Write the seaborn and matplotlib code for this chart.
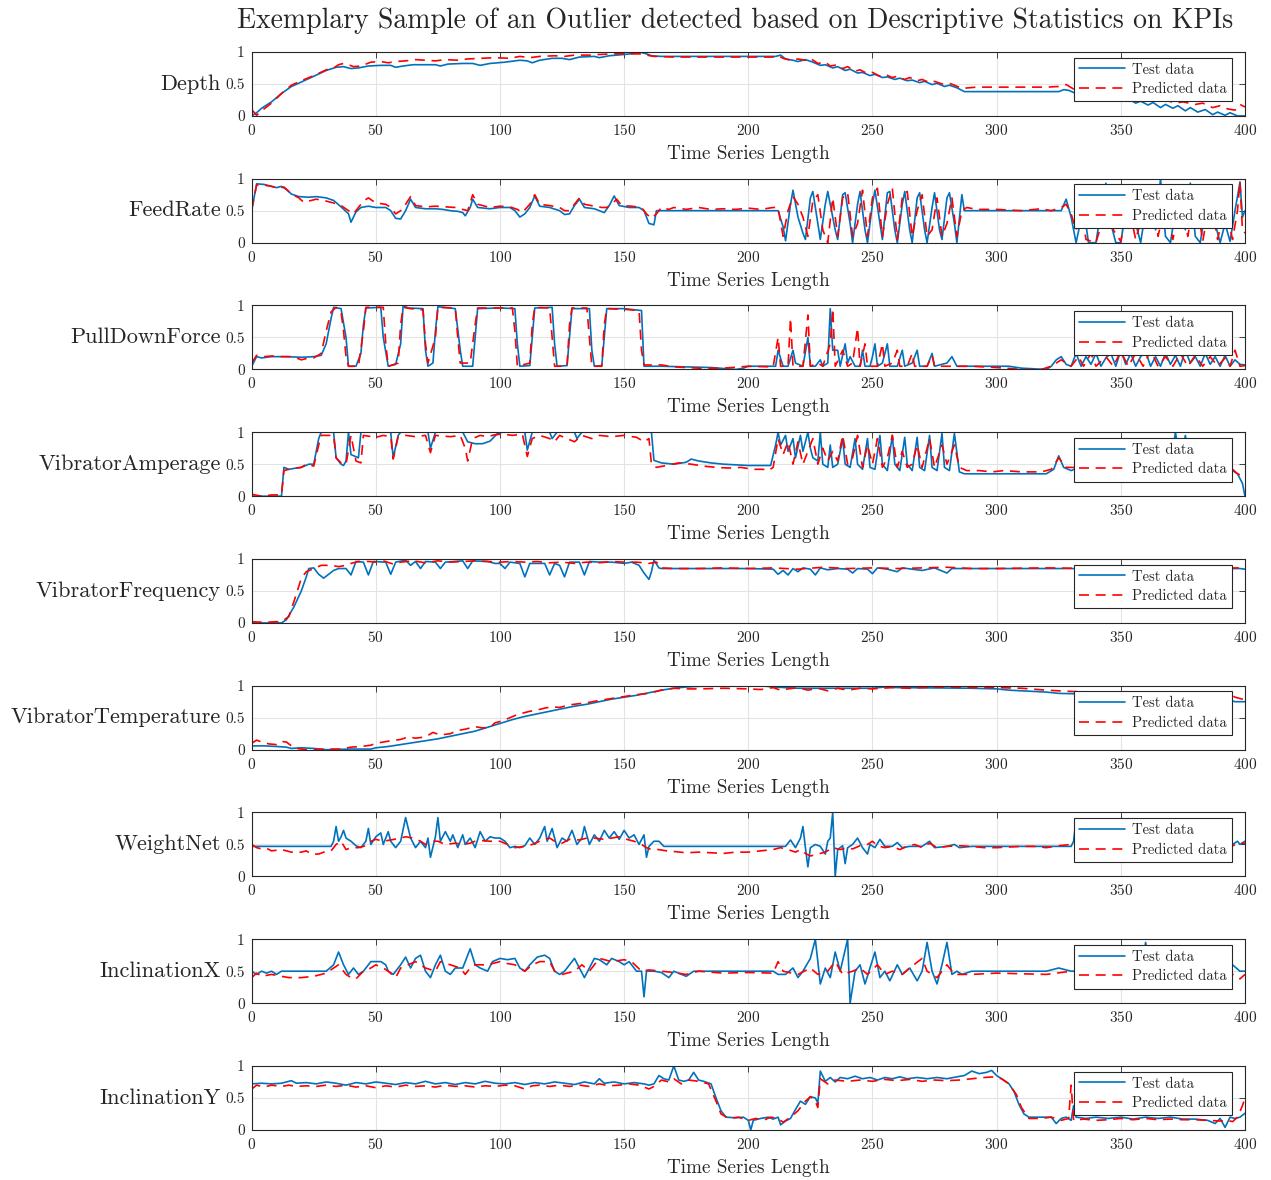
"""
Outlier sample: test vs. predicted KPI series
"""

import matplotlib
matplotlib.use("Agg")
import matplotlib.pyplot as plt
import pandas as pd
import seaborn as sns

# ---- data (time step, normalised value) ----
kpis = ["Depth", "FeedRate", "PullDownForce", "VibratorAmperage", "VibratorFrequency",
        "VibratorTemperature", "WeightNet", "InclinationX", "InclinationY"]

depth_test = [(0,0.0),(2,0.05),(4,0.12),(8,0.22),(12,0.35),(16,0.46),(20,0.53),(25,0.62),(30,0.71),(34,0.76),(37,0.77),(40,0.74),(43,0.75),(47,0.78),(52,0.79),(56,0.79),(58,0.76),(61,0.78),(65,0.8),(70,0.8),(74,0.8),(76,0.78),(79,0.81),(85,0.82),(89,0.82),(92,0.79),(96,0.82),(102,0.84),(108,0.87),(111,0.86),(113,0.83),(116,0.87),(121,0.9),(125,0.9),(128,0.88),(132,0.92),(138,0.93),(140,0.91),(144,0.94),(150,0.96),(155,0.98),(157,0.99),(159,0.97),(161,0.94),(165,0.93),(190,0.93),(211,0.93),(213,0.95),(215,0.89),(218,0.87),(220,0.85),(223,0.88),(226,0.84),(229,0.79),(231,0.8),(234,0.75),(236,0.77),(239,0.71),(241,0.73),(244,0.67),(246,0.68),(249,0.63),(251,0.65),(254,0.6),(256,0.61),(259,0.57),(261,0.59),(264,0.55),(266,0.56),(269,0.52),(271,0.54),(274,0.49),(276,0.51),(279,0.46),(281,0.48),(284,0.44),(287,0.38),(325,0.38),(327,0.41),(329,0.4),(332,0.35),(335,0.36),(340,0.33),(345,0.3),(350,0.28),(353,0.27),(356,0.2),(358,0.23),(361,0.17),(363,0.21),(366,0.13),(368,0.18),(371,0.12),(373,0.16),(376,0.08),(378,0.13),(381,0.06),(384,0.1),(387,0.02),(389,0.06),(392,0.01),(394,0.05),(397,0.0),(400,0.0)]
depth_pred = [(0,0.1),(2,0.01),(4,0.08),(8,0.2),(12,0.35),(16,0.48),(20,0.55),(25,0.63),(30,0.72),(33,0.75),(35,0.8),(37,0.82),(39,0.8),(41,0.77),(44,0.78),(48,0.84),(52,0.85),(55,0.83),(58,0.85),(62,0.86),(66,0.88),(70,0.87),(74,0.86),(78,0.88),(83,0.87),(87,0.89),(92,0.9),(98,0.91),(104,0.9),(108,0.93),(112,0.91),(116,0.93),(122,0.94),(126,0.93),(130,0.95),(136,0.95),(140,0.96),(146,0.97),(152,0.97),(156,0.97),(159,0.95),(162,0.93),(170,0.92),(190,0.92),(210,0.92),(212,0.94),(214,0.9),(217,0.87),(220,0.89),(223,0.87),(225,0.9),(228,0.82),(231,0.84),(233,0.78),(236,0.8),(238,0.74),(240,0.77),(243,0.7),(245,0.72),(248,0.66),(250,0.68),(253,0.62),(255,0.65),(258,0.6),(260,0.62),(263,0.57),(265,0.6),(268,0.55),(270,0.57),(273,0.52),(275,0.54),(278,0.5),(281,0.51),(283,0.48),(286,0.43),(289,0.44),(292,0.45),(300,0.45),(320,0.45),(325,0.46),(328,0.49),(331,0.42),(335,0.4),(345,0.35),(355,0.3),(360,0.28),(365,0.22),(368,0.25),(372,0.2),(375,0.22),(380,0.18),(383,0.2),(387,0.13),(390,0.16),(393,0.11),(396,0.09),(398,0.18),(400,0.14)]

feed_test = [(0,0.5),(2,0.92),(5,0.91),(8,0.88),(10,0.86),(12,0.88),(14,0.83),(16,0.76),(19,0.72),(23,0.71),(26,0.72),(30,0.7),(33,0.66),(36,0.56),(39,0.45),(40,0.32),(42,0.48),(44,0.55),(47,0.57),(50,0.55),(54,0.55),(56,0.5),(58,0.38),(60,0.37),(62,0.5),(64,0.68),(66,0.55),(70,0.53),(74,0.53),(77,0.52),(80,0.5),(83,0.49),(85,0.47),(86,0.42),(88,0.55),(89,0.68),(91,0.55),(96,0.53),(100,0.55),(104,0.55),(106,0.5),(108,0.4),(110,0.45),(112,0.55),(114,0.73),(116,0.57),(120,0.55),(124,0.5),(126,0.44),(128,0.45),(130,0.58),(132,0.68),(134,0.55),(138,0.53),(140,0.5),(142,0.47),(144,0.58),(146,0.73),(148,0.58),(152,0.55),(156,0.55),(158,0.5),(160,0.3),(162,0.28),(163,0.5),(212,0.5),(214,0.25),(215,0.03),(217,0.6),(218,0.82),(220,0.4),(222,0.15),(223,0.05),(225,0.7),(226,0.8),(228,0.3),(229,0.05),(231,0.6),(232,0.8),(234,0.4),(235,0.2),(236,0.05),(238,0.75),(239,0.78),(241,0.3),(242,0.0),(244,0.6),(245,0.8),(247,0.2),(248,0.0),(250,0.6),(251,0.82),(253,0.3),(254,0.05),(256,0.78),(257,0.8),(259,0.2),(260,0.0),(262,0.6),(263,0.8),(265,0.2),(266,0.0),(268,0.7),(269,0.78),(271,0.2),(272,0.0),(274,0.55),(275,0.78),(277,0.2),(278,0.05),(280,0.7),(281,0.78),(283,0.3),(284,0.0),(286,0.75),(287,0.5),(326,0.5),(328,0.68),(330,0.4),(332,0.0),(335,0.55),(337,0.0),(340,0.0),(342,0.5),(344,0.93),(346,0.3),(348,0.0),(350,0.0),(352,0.5),(354,0.9),(356,0.3),(358,0.0),(360,0.5),(362,0.9),(364,0.2),(366,1.0),(368,0.1),(370,0.0),(372,0.5),(374,0.9),(376,0.2),(378,0.93),(380,0.1),(382,0.0),(384,0.5),(386,0.9),(388,0.3),(390,0.0),(392,0.3),(394,0.02),(396,0.5),(398,0.95),(399,0.4),(400,0.5)]
feed_pred = [(0,0.52),(2,0.9),(5,0.9),(8,0.88),(11,0.85),(13,0.87),(15,0.8),(17,0.74),(19,0.7),(21,0.63),(23,0.65),(26,0.68),(30,0.65),(33,0.62),(36,0.58),(39,0.5),(41,0.45),(43,0.55),(45,0.65),(47,0.7),(50,0.62),(54,0.6),(56,0.55),(58,0.45),(60,0.5),(62,0.6),(64,0.72),(66,0.58),(70,0.56),(74,0.57),(78,0.56),(82,0.55),(85,0.52),(87,0.5),(88,0.62),(89,0.75),(91,0.6),(96,0.55),(100,0.57),(104,0.56),(107,0.52),(109,0.47),(112,0.6),(114,0.75),(116,0.6),(120,0.58),(124,0.55),(126,0.5),(128,0.5),(130,0.6),(132,0.7),(134,0.6),(138,0.57),(141,0.55),(143,0.55),(145,0.6),(147,0.68),(149,0.58),(153,0.57),(157,0.55),(159,0.45),(161,0.38),(163,0.45),(165,0.55),(168,0.52),(170,0.55),(175,0.52),(180,0.55),(185,0.52),(190,0.53),(195,0.52),(200,0.54),(205,0.52),(210,0.55),(212,0.55),(214,0.1),(216,0.5),(218,0.72),(220,0.6),(222,0.4),(224,0.1),(226,0.65),(228,0.75),(230,0.2),(232,0.0),(234,0.7),(236,0.1),(238,0.7),(240,0.78),(242,0.1),(244,0.3),(246,0.82),(248,0.1),(250,0.7),(252,0.85),(254,0.1),(256,0.6),(258,0.85),(260,0.05),(262,0.7),(264,0.8),(266,0.1),(268,0.5),(270,0.75),(272,0.1),(274,0.2),(276,0.7),(278,0.1),(280,0.3),(282,0.7),(284,0.1),(286,0.5),(288,0.55),(292,0.52),(300,0.52),(310,0.5),(318,0.53),(322,0.5),(326,0.55),(328,0.6),(330,0.45),(332,0.2),(334,0.55),(336,0.05),(340,0.0),(343,0.4),(345,0.8),(347,0.2),(350,0.02),(353,0.6),(356,0.05),(360,0.6),(363,0.9),(365,0.1),(368,0.6),(371,0.05),(374,0.7),(377,0.1),(380,0.8),(383,0.02),(386,0.7),(389,0.05),(392,0.6),(395,0.05),(397,0.5),(398,0.95),(399,0.2),(400,0.15)]

pull_test = [(0,0.05),(2,0.2),(4,0.18),(8,0.2),(14,0.2),(20,0.19),(25,0.2),(28,0.22),(30,0.4),(32,0.8),(33,0.97),(36,0.95),(38,0.5),(39,0.05),(42,0.05),(44,0.25),(45,0.7),(46,0.96),(52,0.97),(53,0.5),(55,0.05),(58,0.08),(60,0.4),(61,1.0),(63,0.96),(69,0.95),(70,0.3),(71,0.05),(73,0.1),(74,0.6),(75,0.98),(82,0.95),(84,0.3),(85,0.05),(89,0.05),(90,0.5),(91,0.95),(100,0.96),(106,0.95),(107,0.4),(108,0.05),(112,0.06),(113,0.5),(114,0.96),(121,0.97),(122,0.4),(123,0.05),(127,0.06),(128,0.5),(129,0.95),(136,0.95),(137,0.3),(138,0.05),(141,0.06),(142,0.5),(143,0.95),(150,0.95),(157,0.92),(158,0.05),(165,0.05),(175,0.04),(185,0.03),(195,0.0),(198,0.02),(200,0.05),(211,0.05),(212,0.3),(214,0.05),(216,0.05),(218,0.3),(219,0.1),(222,0.05),(224,0.5),(225,0.05),(227,0.05),(229,0.15),(230,0.05),(232,0.1),(233,0.95),(234,0.3),(236,0.3),(237,0.05),(239,0.4),(240,0.1),(241,0.2),(243,0.05),(245,0.05),(246,0.3),(247,0.05),(249,0.05),(250,0.2),(251,0.4),(252,0.05),(254,0.1),(256,0.4),(257,0.05),(260,0.05),(262,0.3),(263,0.05),(266,0.1),(268,0.3),(269,0.05),(272,0.05),(274,0.25),(275,0.05),(280,0.1),(282,0.2),(284,0.05),(290,0.05),(300,0.05),(305,0.05),(310,0.02),(315,0.01),(320,0.0),(322,0.05),(324,0.15),(326,0.2),(328,0.08),(330,0.05),(332,0.25),(334,0.05),(336,0.2),(338,0.08),(340,0.25),(342,0.05),(344,0.18),(346,0.25),(348,0.05),(350,0.3),(352,0.08),(354,0.25),(356,0.05),(358,0.2),(360,0.28),(362,0.05),(364,0.2),(366,0.05),(368,0.25),(370,0.08),(372,0.22),(374,0.05),(376,0.3),(378,0.1),(380,0.2),(382,0.05),(384,0.25),(386,0.08),(388,0.2),(390,0.05),(392,0.22),(394,0.05),(396,0.15),(398,0.08),(400,0.07)]
pull_pred = [(0,0.1),(2,0.22),(5,0.2),(8,0.21),(12,0.2),(16,0.2),(18,0.18),(20,0.15),(22,0.17),(25,0.18),(28,0.25),(30,0.6),(32,0.9),(34,0.97),(36,0.9),(37,0.6),(38,0.2),(39,0.05),(43,0.05),(45,0.6),(46,0.97),(53,0.97),(54,0.4),(55,0.05),(59,0.1),(60,0.7),(61,0.97),(64,0.95),(69,0.93),(70,0.4),(71,0.1),(74,0.5),(75,0.97),(82,0.96),(83,0.5),(84,0.1),(88,0.1),(90,0.7),(91,0.96),(105,0.96),(106,0.6),(107,0.05),(112,0.1),(113,0.7),(114,0.97),(120,0.96),(121,0.5),(122,0.05),(127,0.05),(128,0.7),(129,0.96),(135,0.96),(136,0.5),(137,0.05),(141,0.05),(142,0.7),(143,0.95),(150,0.94),(156,0.92),(157,0.3),(158,0.07),(165,0.07),(170,0.04),(180,0.02),(190,0.02),(200,0.05),(210,0.04),(212,0.5),(213,0.05),(216,0.05),(217,0.8),(218,0.05),(222,0.05),(224,0.85),(225,0.05),(228,0.1),(230,0.05),(233,0.4),(234,0.95),(235,0.05),(238,0.3),(240,0.05),(242,0.1),(244,0.65),(245,0.05),(247,0.4),(248,0.05),(252,0.05),(254,0.4),(255,0.05),(258,0.1),(260,0.3),(261,0.05),(264,0.05),(266,0.25),(267,0.05),(272,0.05),(274,0.22),(275,0.05),(280,0.05),(290,0.05),(300,0.03),(310,0.0),(318,0.0),(322,0.05),(326,0.15),(330,0.05),(333,0.2),(335,0.05),(338,0.25),(340,0.05),(344,0.2),(347,0.05),(350,0.28),(353,0.05),(356,0.25),(359,0.05),(362,0.3),(365,0.05),(368,0.2),(371,0.05),(374,0.25),(377,0.05),(380,0.22),(383,0.05),(386,0.2),(389,0.05),(392,0.18),(394,0.05),(396,0.3),(398,0.05),(400,0.06)]

amp_test = [(0,0.0),(12,0.0),(13,0.45),(15,0.42),(18,0.44),(20,0.45),(23,0.5),(25,0.5),(27,0.9),(28,1.0),(33,1.0),(34,0.6),(36,0.5),(37,0.48),(38,0.55),(39,1.0),(40,0.65),(43,0.6),(44,1.0),(56,1.0),(57,0.6),(59,0.95),(60,1.0),(71,1.0),(72,0.75),(74,1.0),(85,1.0),(87,0.85),(90,0.82),(93,0.82),(96,0.86),(99,0.98),(101,1.0),(110,1.0),(111,0.72),(113,1.0),(120,1.0),(121,0.9),(123,1.0),(130,1.0),(131,0.9),(133,1.0),(161,1.0),(162,0.56),(165,0.52),(170,0.5),(175,0.53),(177,0.58),(180,0.55),(185,0.52),(190,0.5),(200,0.48),(209,0.48),(211,0.8),(212,1.0),(213,0.8),(215,0.95),(216,0.7),(218,0.9),(219,0.6),(221,0.95),(222,0.7),(224,1.0),(225,0.75),(226,0.6),(228,0.55),(229,1.0),(230,0.5),(232,0.45),(233,0.8),(234,0.45),(236,0.5),(238,0.9),(239,0.5),(241,0.45),(243,0.9),(244,0.5),(246,0.42),(248,0.9),(249,0.45),(251,0.42),(253,0.95),(254,0.5),(256,0.4),(258,0.95),(259,0.5),(261,0.4),(263,0.92),(264,0.5),(266,0.4),(268,0.92),(269,0.45),(271,0.4),(273,0.95),(274,0.45),(276,0.4),(278,0.98),(279,0.45),(281,0.4),(283,0.98),(285,0.38),(287,0.35),(300,0.35),(320,0.35),(323,0.42),(325,0.63),(327,0.45),(330,0.4),(333,0.45),(335,0.5),(340,0.45),(345,0.5),(350,0.48),(355,0.5),(360,0.45),(365,0.5),(370,0.45),(372,1.0),(374,0.5),(376,0.95),(378,0.5),(385,0.45),(390,0.45),(395,0.4),(397,0.35),(399,0.2),(400,0.0)]
amp_pred = [(0,0.03),(4,0.0),(8,0.02),(12,0.02),(13,0.4),(16,0.43),(20,0.45),(22,0.5),(25,0.47),(27,0.8),(28,0.95),(33,0.95),(34,0.6),(36,0.52),(38,0.5),(40,0.95),(42,0.55),(44,0.52),(45,0.95),(50,0.92),(53,0.95),(56,0.93),(57,0.58),(59,0.93),(62,0.95),(66,0.93),(70,0.95),(72,0.68),(74,0.95),(80,0.93),(84,0.95),(86,0.75),(87,0.55),(89,0.9),(92,0.95),(95,0.93),(98,0.96),(101,0.97),(105,0.95),(109,0.97),(111,0.62),(113,0.9),(116,0.95),(120,0.9),(122,0.85),(124,0.95),(127,0.9),(130,0.85),(133,0.95),(137,0.9),(140,0.95),(145,0.93),(150,0.95),(155,0.92),(158,0.85),(160,0.9),(161,0.5),(163,0.45),(167,0.48),(172,0.52),(177,0.5),(182,0.47),(187,0.45),(192,0.44),(197,0.45),(202,0.42),(206,0.42),(208,0.4),(210,0.45),(212,0.9),(214,0.65),(216,0.85),(218,0.5),(220,0.85),(222,0.5),(224,0.7),(226,0.9),(228,0.5),(230,0.75),(232,0.55),(234,0.7),(236,0.55),(238,0.95),(240,0.5),(242,0.6),(244,0.95),(246,0.45),(248,0.8),(250,0.5),(252,0.9),(254,0.45),(256,0.6),(258,0.95),(260,0.45),(262,0.7),(264,0.45),(266,0.5),(268,0.8),(270,0.45),(273,0.9),(275,0.45),(278,0.8),(280,0.5),(283,0.8),(285,0.45),(288,0.4),(293,0.4),(298,0.38),(303,0.4),(310,0.38),(318,0.38),(322,0.42),(325,0.6),(328,0.45),(335,0.45),(345,0.47),(355,0.45),(365,0.47),(375,0.45),(385,0.43),(395,0.42),(397,0.35),(400,0.3)]

freq_test = [(0,0.0),(12,0.0),(14,0.05),(17,0.25),(20,0.5),(22,0.72),(23,0.85),(25,0.86),(27,0.76),(29,0.7),(31,0.76),(33,0.82),(35,0.85),(38,0.85),(40,0.75),(42,0.96),(45,0.95),(47,0.75),(49,0.96),(54,0.95),(56,0.76),(58,0.95),(62,0.98),(64,0.9),(66,0.96),(68,0.85),(70,0.96),(74,0.95),(76,0.85),(78,0.95),(85,0.97),(87,0.85),(89,0.97),(95,0.96),(98,0.93),(100,0.93),(102,0.85),(104,0.95),(108,0.93),(110,0.72),(112,0.93),(118,0.93),(120,0.75),(122,0.93),(124,0.9),(126,0.72),(128,0.95),(132,0.95),(134,0.75),(136,0.96),(140,0.95),(145,0.95),(150,0.93),(153,0.95),(156,0.9),(158,0.78),(160,0.68),(161,0.8),(162,0.98),(164,0.86),(165,0.85),(200,0.85),(210,0.84),(212,0.76),(214,0.82),(216,0.75),(218,0.85),(220,0.8),(222,0.86),(225,0.84),(227,0.75),(229,0.86),(232,0.83),(236,0.85),(240,0.84),(242,0.78),(244,0.85),(248,0.84),(250,0.77),(252,0.86),(256,0.84),(260,0.8),(262,0.86),(266,0.84),(270,0.82),(275,0.86),(280,0.78),(282,0.85),(290,0.85),(330,0.85),(350,0.85),(398,0.85),(400,0.84)]
freq_pred = [(0,0.02),(5,0.01),(10,0.02),(12,0.02),(15,0.1),(18,0.45),(20,0.7),(22,0.8),(25,0.85),(28,0.9),(32,0.9),(35,0.88),(38,0.9),(40,0.93),(43,0.96),(47,0.96),(50,0.95),(53,0.97),(57,0.92),(60,0.95),(65,0.97),(70,0.94),(75,0.97),(80,0.95),(85,0.96),(90,0.97),(95,0.96),(100,0.95),(105,0.96),(110,0.95),(115,0.96),(120,0.94),(125,0.95),(130,0.93),(135,0.95),(140,0.94),(145,0.96),(150,0.95),(155,0.95),(160,0.93),(163,0.95),(165,0.86),(170,0.85),(180,0.85),(190,0.86),(200,0.85),(210,0.86),(220,0.84),(230,0.87),(240,0.85),(250,0.86),(260,0.85),(270,0.86),(280,0.87),(290,0.85),(300,0.85),(320,0.86),(340,0.85),(360,0.85),(380,0.85),(398,0.86),(400,0.84)]

temp_test = [(0,0.06),(5,0.06),(10,0.05),(14,0.04),(16,0.02),(20,0.03),(25,0.02),(30,0.0),(40,0.01),(48,0.01),(50,0.03),(55,0.05),(60,0.08),(65,0.11),(70,0.14),(75,0.17),(80,0.21),(85,0.25),(90,0.29),(95,0.35),(100,0.41),(105,0.47),(110,0.52),(115,0.56),(120,0.6),(125,0.64),(130,0.68),(135,0.71),(140,0.75),(145,0.79),(150,0.82),(155,0.85),(160,0.89),(165,0.93),(170,0.96),(175,0.98),(180,0.99),(190,1.0),(200,1.0),(205,1.0),(210,0.98),(215,0.97),(220,0.96),(240,0.96),(250,0.96),(255,0.98),(260,0.97),(290,0.96),(300,0.95),(305,0.93),(310,0.92),(320,0.9),(325,0.88),(335,0.87),(345,0.86),(355,0.84),(365,0.83),(375,0.81),(385,0.8),(393,0.78),(396,0.75),(400,0.75)]
temp_pred = [(0,0.1),(2,0.15),(4,0.12),(7,0.09),(10,0.08),(12,0.13),(14,0.12),(16,0.06),(18,0.02),(22,0.0),(30,0.01),(36,0.01),(40,0.04),(44,0.05),(48,0.07),(50,0.1),(53,0.12),(56,0.14),(60,0.16),(63,0.2),(66,0.18),(70,0.2),(73,0.27),(76,0.23),(80,0.25),(83,0.3),(86,0.32),(90,0.36),(93,0.34),(96,0.35),(98,0.42),(101,0.45),(104,0.5),(107,0.55),(109,0.57),(112,0.6),(115,0.62),(118,0.65),(121,0.67),(124,0.66),(128,0.7),(132,0.72),(136,0.74),(140,0.77),(145,0.8),(150,0.83),(155,0.86),(160,0.88),(165,0.93),(170,0.96),(175,0.95),(180,0.95),(190,0.96),(200,0.95),(205,0.94),(210,0.97),(213,0.93),(216,0.95),(220,0.97),(224,0.93),(228,0.96),(232,0.92),(236,0.96),(240,0.93),(245,0.96),(250,0.95),(258,0.97),(265,0.96),(270,0.97),(280,0.98),(290,0.97),(300,0.97),(310,0.96),(320,0.93),(330,0.91),(340,0.9),(350,0.9),(360,0.89),(370,0.88),(380,0.88),(390,0.87),(394,0.87),(396,0.82),(398,0.8),(400,0.78)]

weight_test = [(0,0.47),(32,0.47),(33,0.55),(34,0.78),(35,0.55),(36,0.62),(37,0.72),(38,0.6),(40,0.55),(42,0.48),(44,0.45),(46,0.55),(47,0.75),(48,0.5),(50,0.62),(52,0.68),(53,0.5),(55,0.7),(56,0.55),(58,0.45),(60,0.55),(62,0.92),(64,0.6),(66,0.45),(68,0.55),(70,0.45),(71,0.6),(72,0.3),(74,0.62),(75,0.92),(76,0.55),(78,0.7),(80,0.55),(81,0.65),(83,0.45),(85,0.65),(86,0.5),(88,0.6),(90,0.45),(92,0.7),(94,0.55),(96,0.62),(98,0.6),(100,0.6),(102,0.55),(104,0.45),(106,0.47),(108,0.45),(110,0.48),(112,0.6),(114,0.5),(116,0.6),(118,0.78),(119,0.55),(121,0.75),(123,0.45),(125,0.6),(127,0.55),(129,0.72),(131,0.5),(133,0.6),(134,0.78),(136,0.5),(138,0.65),(140,0.55),(142,0.72),(144,0.6),(146,0.7),(148,0.58),(150,0.72),(152,0.6),(154,0.65),(156,0.5),(158,0.65),(159,0.3),(160,0.47),(162,0.55),(164,0.55),(166,0.47),(215,0.47),(217,0.57),(219,0.45),(221,0.6),(222,0.78),(223,0.45),(224,0.15),(225,0.45),(227,0.5),(229,0.47),(231,0.35),(232,0.55),(233,0.6),(234,1.0),(235,0.0),(236,0.42),(238,0.48),(239,0.2),(240,0.45),(242,0.5),(244,0.6),(246,0.45),(248,0.35),(249,0.5),(251,0.45),(253,0.58),(255,0.47),(258,0.47),(260,0.53),(262,0.45),(265,0.47),(270,0.47),(273,0.55),(275,0.45),(280,0.47),(283,0.5),(285,0.45),(290,0.47),(330,0.47),(331,0.55),(332,0.9),(333,0.5),(345,0.5),(360,0.48),(380,0.5),(395,0.5),(397,0.55),(398,0.5),(400,0.55)]
weight_pred = [(0,0.5),(2,0.45),(4,0.43),(6,0.44),(8,0.4),(12,0.42),(16,0.38),(20,0.38),(22,0.4),(24,0.35),(27,0.35),(29,0.38),(32,0.4),(34,0.5),(36,0.55),(38,0.42),(40,0.45),(43,0.45),(46,0.48),(48,0.55),(50,0.58),(53,0.55),(56,0.57),(60,0.6),(62,0.62),(65,0.6),(68,0.55),(70,0.5),(73,0.55),(75,0.55),(78,0.5),(82,0.52),(85,0.5),(88,0.52),(90,0.55),(93,0.56),(96,0.55),(100,0.55),(103,0.5),(106,0.45),(110,0.47),(113,0.5),(116,0.55),(120,0.6),(122,0.55),(125,0.52),(128,0.58),(132,0.57),(135,0.6),(138,0.6),(142,0.58),(145,0.6),(148,0.62),(151,0.58),(154,0.55),(157,0.5),(159,0.45),(161,0.42),(164,0.42),(167,0.4),(170,0.39),(175,0.37),(180,0.38),(185,0.37),(190,0.36),(195,0.38),(200,0.38),(205,0.4),(210,0.42),(213,0.45),(216,0.42),(219,0.38),(221,0.42),(223,0.36),(225,0.32),(228,0.35),(231,0.38),(234,0.45),(237,0.42),(240,0.45),(242,0.43),(245,0.48),(248,0.5),(250,0.55),(252,0.48),(255,0.45),(258,0.47),(261,0.42),(264,0.47),(267,0.5),(270,0.45),(273,0.52),(276,0.45),(280,0.47),(285,0.48),(290,0.47),(295,0.45),(300,0.45),(305,0.46),(310,0.47),(315,0.47),(320,0.45),(325,0.48),(330,0.5),(340,0.48),(360,0.48),(380,0.5),(395,0.48),(398,0.52),(400,0.52)]

incx_test = [(0,0.5),(2,0.45),(4,0.5),(6,0.47),(8,0.5),(10,0.45),(12,0.5),(15,0.5),(20,0.5),(30,0.5),(33,0.6),(35,0.8),(37,0.6),(39,0.45),(41,0.55),(43,0.45),(45,0.5),(48,0.65),(52,0.65),(54,0.6),(55,0.5),(57,0.45),(60,0.6),(62,0.72),(64,0.55),(66,0.7),(68,0.75),(70,0.5),(72,0.4),(74,0.6),(76,0.75),(78,0.5),(80,0.45),(82,0.55),(85,0.55),(88,0.85),(90,0.6),(92,0.55),(95,0.5),(97,0.65),(100,0.7),(103,0.68),(106,0.7),(108,0.55),(110,0.5),(112,0.6),(115,0.72),(118,0.75),(120,0.7),(122,0.5),(124,0.45),(126,0.5),(128,0.6),(130,0.7),(132,0.55),(134,0.4),(136,0.55),(138,0.7),(140,0.68),(143,0.6),(145,0.7),(148,0.65),(150,0.6),(152,0.65),(155,0.5),(157,0.5),(158,0.1),(159,0.5),(162,0.5),(165,0.48),(168,0.4),(170,0.5),(175,0.42),(178,0.5),(180,0.5),(210,0.5),(212,0.45),(215,0.45),(218,0.55),(220,0.4),(222,0.5),(225,0.7),(227,1.0),(229,0.3),(231,0.55),(233,0.4),(235,0.8),(237,0.5),(240,1.0),(241,0.0),(243,0.5),(245,0.6),(247,0.3),(249,0.55),(251,0.8),(253,0.4),(255,0.5),(257,0.35),(260,0.6),(262,0.45),(265,0.55),(268,0.35),(270,0.5),(272,0.95),(274,0.5),(276,0.3),(278,0.6),(280,0.95),(282,0.45),(284,0.5),(286,0.45),(290,0.5),(300,0.5),(320,0.5),(325,0.55),(330,0.5),(345,0.5),(358,0.5),(360,0.95),(362,0.5),(380,0.5),(395,0.6),(398,0.5),(400,0.5)]
incx_pred = [(0,0.4),(2,0.47),(4,0.42),(8,0.45),(12,0.42),(15,0.4),(20,0.4),(25,0.42),(28,0.45),(30,0.47),(33,0.55),(35,0.6),(38,0.45),(40,0.4),(42,0.38),(45,0.5),(48,0.55),(50,0.6),(53,0.55),(55,0.5),(58,0.4),(60,0.55),(63,0.6),(66,0.65),(70,0.55),(74,0.5),(76,0.65),(80,0.6),(84,0.55),(86,0.45),(88,0.55),(90,0.6),(95,0.6),(100,0.65),(103,0.62),(106,0.6),(110,0.5),(113,0.6),(116,0.65),(120,0.65),(122,0.5),(125,0.45),(130,0.5),(133,0.6),(136,0.5),(140,0.7),(145,0.65),(150,0.68),(153,0.65),(157,0.5),(160,0.52),(165,0.5),(170,0.48),(175,0.45),(180,0.5),(190,0.47),(200,0.48),(210,0.47),(212,0.65),(214,0.5),(220,0.45),(225,0.55),(228,0.45),(232,0.5),(235,0.65),(238,0.45),(242,0.5),(245,0.55),(248,0.45),(252,0.6),(255,0.45),(258,0.5),(262,0.45),(265,0.55),(270,0.7),(272,0.5),(276,0.4),(280,0.6),(283,0.45),(290,0.45),(300,0.47),(320,0.45),(330,0.5),(395,0.45),(398,0.38),(400,0.45)]

incy_test = [(0,0.72),(4,0.73),(8,0.72),(12,0.73),(16,0.77),(18,0.73),(22,0.74),(26,0.72),(30,0.75),(34,0.73),(38,0.7),(42,0.74),(46,0.72),(50,0.75),(54,0.73),(58,0.71),(62,0.74),(66,0.72),(70,0.76),(74,0.72),(78,0.74),(82,0.71),(86,0.74),(90,0.72),(94,0.76),(98,0.73),(102,0.72),(106,0.74),(110,0.71),(114,0.74),(118,0.72),(122,0.75),(126,0.73),(130,0.71),(134,0.75),(138,0.72),(140,0.8),(142,0.73),(146,0.75),(150,0.72),(154,0.74),(158,0.72),(160,0.7),(162,0.72),(164,0.85),(166,0.8),(168,0.78),(170,1.0),(172,0.78),(174,0.76),(176,0.78),(178,0.9),(180,0.78),(182,0.76),(185,0.72),(187,0.5),(189,0.3),(191,0.2),(195,0.19),(198,0.2),(200,0.15),(201,0.0),(202,0.15),(205,0.18),(208,0.2),(210,0.17),(212,0.2),(213,0.08),(215,0.14),(217,0.18),(219,0.32),(221,0.45),(223,0.4),(225,0.52),(227,0.5),(228,0.42),(229,0.92),(231,0.76),(233,0.82),(235,0.75),(237,0.82),(240,0.8),(243,0.84),(246,0.8),(249,0.82),(252,0.78),(255,0.82),(258,0.8),(261,0.83),(264,0.8),(268,0.82),(272,0.8),(276,0.82),(280,0.8),(284,0.83),(287,0.85),(290,0.92),(293,0.88),(296,0.9),(298,0.93),(300,0.85),(302,0.8),(305,0.72),(307,0.6),(309,0.4),(311,0.25),(313,0.2),(318,0.2),(322,0.2),(324,0.1),(326,0.18),(328,0.2),(330,0.15),(331,0.38),(332,0.2),(336,0.18),(340,0.2),(345,0.18),(350,0.2),(355,0.17),(360,0.2),(365,0.18),(370,0.2),(375,0.17),(380,0.17),(385,0.15),(388,0.1),(390,0.18),(392,0.04),(394,0.2),(396,0.18),(398,0.2),(400,0.26)]
incy_pred = [(0,0.64),(2,0.7),(5,0.67),(8,0.7),(12,0.68),(15,0.7),(18,0.68),(22,0.69),(26,0.68),(30,0.7),(34,0.68),(38,0.7),(42,0.67),(46,0.69),(50,0.66),(54,0.69),(58,0.67),(62,0.7),(66,0.68),(70,0.69),(74,0.67),(78,0.7),(82,0.68),(86,0.69),(90,0.67),(94,0.69),(98,0.68),(102,0.7),(106,0.69),(110,0.64),(113,0.69),(116,0.7),(120,0.68),(124,0.7),(128,0.68),(132,0.7),(136,0.68),(140,0.72),(144,0.69),(148,0.7),(152,0.72),(156,0.7),(160,0.64),(162,0.68),(165,0.78),(168,0.75),(170,0.8),(173,0.72),(176,0.78),(180,0.76),(184,0.72),(187,0.45),(189,0.25),(192,0.18),(196,0.2),(200,0.15),(203,0.18),(206,0.15),(209,0.2),(212,0.18),(214,0.12),(217,0.2),(220,0.3),(223,0.45),(225,0.52),(227,0.45),(228,0.35),(229,0.8),(232,0.72),(235,0.78),(240,0.76),(245,0.78),(250,0.76),(255,0.79),(260,0.77),(265,0.79),(270,0.76),(275,0.78),(280,0.77),(285,0.78),(290,0.8),(295,0.82),(299,0.83),(302,0.8),(305,0.72),(308,0.55),(310,0.35),(313,0.18),(318,0.18),(322,0.2),(326,0.15),(329,0.18),(330,0.7),(331,0.15),(335,0.17),(340,0.15),(345,0.16),(350,0.18),(355,0.16),(360,0.18),(365,0.16),(370,0.17),(375,0.16),(380,0.16),(385,0.15),(390,0.14),(393,0.15),(395,0.13),(397,0.2),(399,0.38),(400,0.5)]

series = {
    "Depth": (depth_test, depth_pred),
    "FeedRate": (feed_test, feed_pred),
    "PullDownForce": (pull_test, pull_pred),
    "VibratorAmperage": (amp_test, amp_pred),
    "VibratorFrequency": (freq_test, freq_pred),
    "VibratorTemperature": (temp_test, temp_pred),
    "WeightNet": (weight_test, weight_pred),
    "InclinationX": (incx_test, incx_pred),
    "InclinationY": (incy_test, incy_pred),
}

# ---- style ----
sns.set_theme(style="white")
plt.rcParams["font.family"] = "serif"
plt.rcParams["font.serif"] = ["cmr10", "DejaVu Serif"]
plt.rcParams["mathtext.fontset"] = "cm"
plt.rcParams["axes.formatter.use_mathtext"] = True

palette = {"Test data": "#0072BD", "Predicted data": "#FF0000"}
dashes = {"Test data": "", "Predicted data": (6, 4)}

fig, axes = plt.subplots(9, 1, figsize=(12.71, 11.8), dpi=100)
fig.subplots_adjust(left=0.198, right=0.9795, top=0.956, bottom=0.0424, hspace=0.98)

for ax, name in zip(axes, kpis):
    test, pred = series[name]
    df = pd.concat([
        pd.DataFrame(test, columns=["t", "v"]).assign(series="Test data"),
        pd.DataFrame(pred, columns=["t", "v"]).assign(series="Predicted data"),
    ])
    sns.lineplot(data=df, x="t", y="v", hue="series", style="series",
                 palette=palette, dashes=dashes, estimator=None, sort=False,
                 linewidth=1.2, ax=ax)

    ax.set_xlim(0, 400)
    ax.set_ylim(0, 1)
    ax.set_xticks(range(0, 401, 50))
    ax.set_yticks([0, 0.5, 1], labels=["0", "0.5", "1"])
    ax.tick_params(direction="in", length=4, width=0.6, top=True, right=True,
                   labelsize=11, colors="#262626", pad=5)
    ax.grid(True, color="#e3e3e3", linewidth=0.8)
    ax.set_axisbelow(True)
    for sp in ax.spines.values():
        sp.set_color("#262626")
        sp.set_linewidth(0.8)

    ax.set_xlabel("Time Series Length", fontsize=13.8, color="#262626", labelpad=5)
    ax.set_ylabel(name, fontsize=16.1, rotation=0, ha="right", va="center")
    ax.yaxis.set_label_coords(-0.031, 0.5)

    handles, labels = ax.get_legend_handles_labels()
    ax.legend(handles, labels, loc="upper right", bbox_to_anchor=(0.987, 0.91),
              borderaxespad=0, fontsize=10.6, handlelength=3.1, frameon=True,
              fancybox=False, framealpha=1, edgecolor="#262626",
              borderpad=0.35, labelspacing=0.4, handletextpad=0.5)
    ax.get_legend().get_frame().set_linewidth(0.8)

fig.suptitle("Exemplary Sample of an Outlier detected based on Descriptive Statistics on KPIs",
             fontsize=20, y=0.994, x=0.578)

fig.savefig("out.png", dpi=100)
